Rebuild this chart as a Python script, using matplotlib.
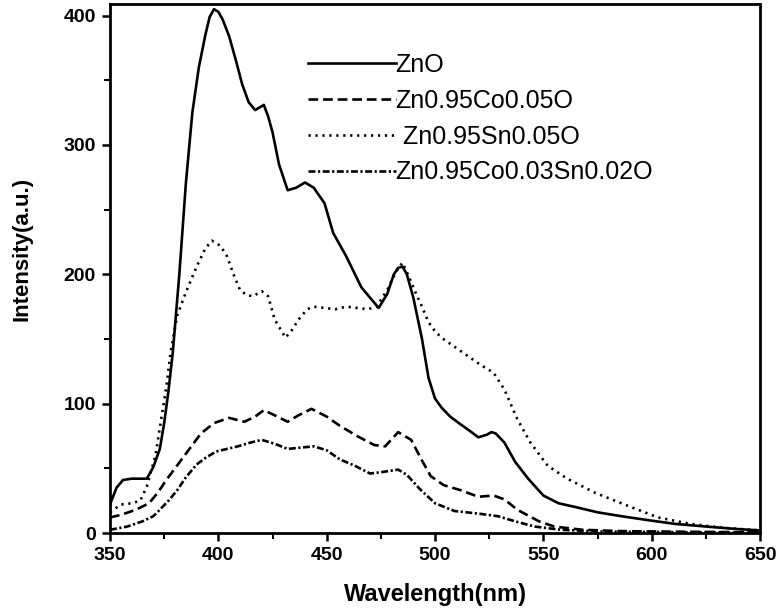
import matplotlib
matplotlib.use("Agg")
from matplotlib import pyplot as plt

plt.rcParams['font.family'] = ['Liberation Sans', 'DejaVu Sans']
plt.rcParams['lines.scale_dashes'] = False

# ZnO (solid)
zno_x = [350, 353, 356, 360, 364, 367, 370, 373, 375, 377, 379, 382, 385, 388, 391,
         394, 396, 398, 400, 402, 405, 408, 411, 414, 417, 419, 421, 423, 425, 428,
         432, 436, 440, 444, 449, 453, 459, 466, 470, 474, 478, 481, 483, 485, 487,
         490, 494, 497, 500, 503, 507, 511, 516, 520, 524, 526, 528, 532, 537, 543,
         550, 557, 565, 575, 586, 598, 611, 625, 640, 650]
zno_y = [22, 35, 41, 42, 42, 42, 51, 65, 85, 110, 140, 200, 270, 325, 360,
         385, 399, 405, 403, 397, 384, 366, 347, 333, 327, 329, 331, 322, 310, 285,
         265, 267, 271, 267, 255, 232, 214, 190, 182, 174, 185, 200, 205, 206, 200,
         182, 150, 120, 104, 97, 90, 85, 79, 74, 76, 78, 77, 70, 55, 42,
         29, 23, 20, 16, 13, 10, 7, 5, 3, 2]

# Zn0.95Co0.05O (dashed)
co_x = [350, 355, 362, 368, 372, 376, 380, 384, 388, 392, 398, 405, 412, 417, 421,
        426, 432, 437, 443, 450, 456, 464, 472, 477, 483, 489, 494, 498, 504, 512,
        520, 527, 532, 538, 548, 555, 568, 585, 610, 630, 650]
co_y = [12, 14, 18, 23, 31, 41, 50, 59, 68, 77, 85, 89, 86, 90, 95,
        91, 86, 91, 96, 90, 83, 75, 68, 67, 78, 72, 56, 44, 37, 33,
        28, 29, 26, 18, 9, 5, 2.5, 1.5, 1, 0.8, 0.5]

# Zn0.95Sn0.05O (dotted)
sn_x = [350, 355, 360, 364, 367, 371, 374, 376, 378, 381, 385, 390, 394, 397, 401,
        404, 407, 410, 413, 416, 420, 423, 426, 431, 434, 437, 441, 444, 449, 454,
        459, 464, 469, 473, 478, 482, 485, 488, 491, 494, 497, 500, 503, 509, 515,
        521, 527, 532, 538, 544, 552, 561, 574, 589, 603, 618, 633, 650]
sn_y = [16, 22, 23, 25, 36, 60, 92, 113, 140, 168, 186, 206, 220, 226, 222,
        214, 200, 188, 184, 183, 187, 183, 165, 151, 157, 165, 173, 175, 174, 173,
        175, 174, 173, 175, 188, 202, 209, 198, 186, 175, 163, 156, 151, 144, 137,
        130, 124, 111, 88, 70, 52, 42, 31, 21, 12, 7, 4, 2]

# Zn0.95Co0.03Sn0.02O (dash-dot)
cosn_x = [350, 358, 365, 370, 373, 377, 381, 385, 390, 394, 399, 404, 409, 415, 420,
          426, 432, 438, 444, 450, 456, 463, 470, 475, 479, 483, 487, 493, 500, 509,
          520, 529, 537, 546, 558, 575, 600, 625, 650]
cosn_y = [2.5, 5, 9, 13, 18, 25, 33, 43, 53, 58, 63, 65, 67, 70, 72,
          69, 65, 66, 67, 64, 57, 52, 46, 47, 48, 49, 45, 34, 23, 17,
          15, 13, 9, 5, 2.5, 1.2, 0.8, 0.5, 0.3]

labels = ['ZnO', 'Zn0.95Co0.05O', ' Zn0.95Sn0.05O', 'Zn0.95Co0.03Sn0.02O']

fig = plt.figure(figsize=(7.77, 6.14), dpi=100)
ax = fig.add_axes([110 / 777, 1 - 533 / 614, 650 / 777, 529 / 614])

ax.plot(zno_x, zno_y, color='black', lw=1.9, ls='-', label=labels[0])
ax.plot(co_x, co_y, color='black', lw=1.9, ls=(0, (7, 3.5)), label=labels[1])
ax.plot(sn_x, sn_y, color='black', lw=1.9, ls=(0, (1.6, 3.4)), label=labels[2])
ax.plot(cosn_x, cosn_y, color='black', lw=1.9, ls=(0, (5, 1.8, 1.6, 1.8)), label=labels[3])

ax.set_xlim(350, 650)
ax.set_ylim(0, 409)
ax.set_xticks(range(350, 651, 50))
ax.set_xticks(range(375, 650, 50), minor=True)
ax.set_yticks(range(0, 401, 100))
ax.set_yticks(range(50, 400, 100), minor=True)

ax.tick_params(which='major', direction='out', length=6, width=1.8, labelsize=14, pad=4)
ax.tick_params(which='minor', direction='out', length=4, width=1.5)
for t in ax.get_xticklabels() + ax.get_yticklabels():
    t.set_fontweight('bold')
for s in ax.spines.values():
    s.set_linewidth(2)

ax.set_xlabel('Wavelength(nm)', fontsize=17, fontweight='bold', labelpad=14)
ax.set_ylabel('Intensity(a.u.)', fontsize=16, fontweight='bold')
ax.yaxis.set_label_coords(-0.12, 0.537)

ax.legend(loc='upper left', bbox_to_anchor=(0.305, 0.907), frameon=False,
          fontsize=18, handlelength=3.5, handletextpad=0.0, labelspacing=0.47,
          borderpad=0, borderaxespad=0)

fig.savefig('out.png', dpi=100)
